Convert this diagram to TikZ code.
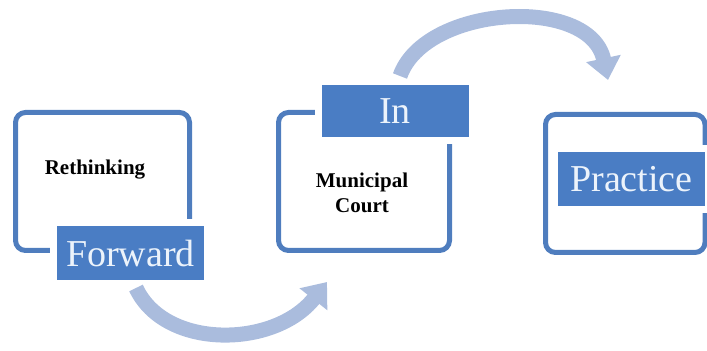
\documentclass[tikz,border=0pt]{standalone}
\usepackage{fontspec}
\setmainfont{Liberation Serif}
\usetikzlibrary {arrows.meta}

\definecolor{boxblue}{RGB}{79,125,190}
\definecolor{tagblue}{RGB}{74,125,196}
\definecolor{tagtext}{RGB}{236,243,251}
\definecolor{arcblue}{RGB}{170,188,221}

\begin{document}
\begin{tikzpicture}[x=0.5pt,y=-0.5pt,
    frame/.style={draw=boxblue,line width=2.5pt,rounded corners=5pt,minimum height=69pt,inner sep=0pt},
    tag/.style={fill=tagblue,text=tagtext,font=\fontsize{19}{19}\selectfont,minimum width=73.5pt,minimum height=27pt,inner sep=0pt,preaction={draw=white,line width=7pt}},
    word/.style={font=\bfseries\fontsize{10.5}{12.5}\selectfont,align=center},
    arc/.style={draw=arcblue,line width=7.5pt,arrows=-{Triangle[length=11pt,width=17pt]}}]

            % \draw [help lines] (0,0) grid (707,351);
            \useasboundingbox (0,0) rectangle (707,351);

            \path   (102.5,181.5) node (rethink) [frame,minimum width=87pt] {}
                    (364,181.5) node (court) [frame,minimum width=85.5pt] {}
                    (625.25,183.5) node (practice) [frame,minimum width=79.75pt] {};

            \path   (130.5,253.5) node (forward) [tag] {Forward}
                    (395,111) node (in) [tag,minimum height=26pt] {In}
                    (631.5,179.5) node (practicetag) [tag] {Practice};

            \path   (95,170) node (rethinkword) [word] {Rethinking}
                    (362,193) node (courtword) [word] {Municipal\\Court};

            \path   (136,288) coordinate (lowstart)
                    (327,282) coordinate (lowend)
                    (400,76) coordinate (highstart)
                    (608,80) coordinate (highend);

            \draw[arc] (lowstart) .. controls (165,350) and (275,348) .. (lowend);
            \draw[arc] (highstart) .. controls (425,5) and (590,-5) .. (highend);

\end{tikzpicture}
\end{document}
